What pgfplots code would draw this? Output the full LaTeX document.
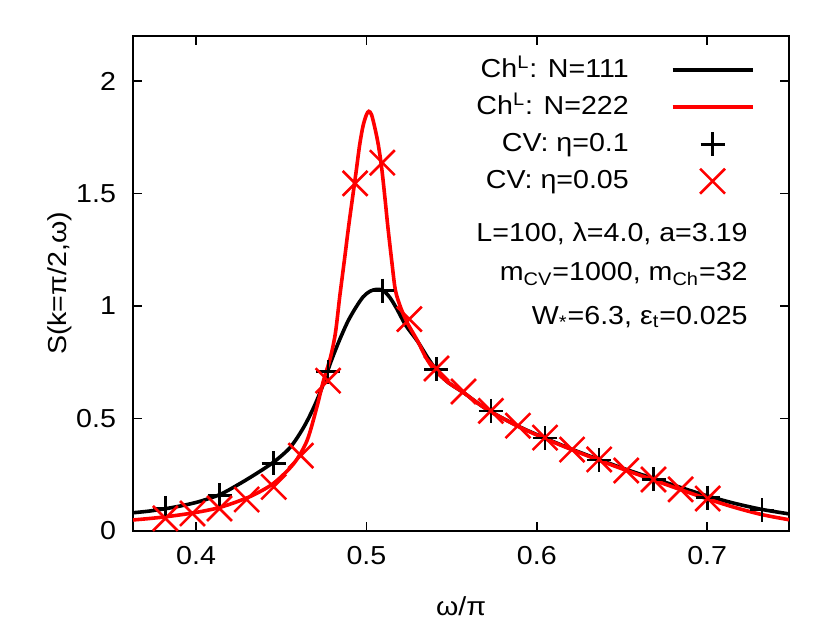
\documentclass[border=0pt]{standalone}
\usepackage{pgfplots}
\pgfplotsset{compat=1.18}
\usepackage{fontspec}
\setmainfont{Liberation Sans}[FakeStretch=1.1]
\pgfplotsset{
  linelegend/.style={legend image code/.code={\draw[##1] (0pt,0pt) -- (40pt,0pt);}},
  marklegend/.style={legend image code/.code={\draw[##1] plot coordinates {(20pt,0pt)};}},
}
\begin{document}
\begin{tikzpicture}
\begin{axis}[
  scale only axis,
  width=328pt, height=247.5pt,
  xmin=0.363, xmax=0.748,
  ymin=0, ymax=2.2,
  xtick={0.4,0.5,0.6,0.7},
  ytick={0,0.5,1,1.5,2},
  minor tick num=0,
  tick align=inside,
  major tick length=4.5pt,
  axis line style={line width=0.9pt},
  every tick/.style={line width=0.9pt, black},
  /pgf/number format/assume math mode=true,
  font=\fontsize{13}{15}\selectfont,
  xlabel={ω/π},
  ylabel={S(k=π/2,ω)},
  x label style={at={(axis description cs:0.5,-0.152)}, anchor=center},
  y label style={at={(axis description cs:-0.111,0.5)}, anchor=center},
  xticklabel style={yshift=-4pt},
  yticklabel style={xshift=-5pt},
  legend style={draw=none, fill=none, at={(axis description cs:0.957,0.966)}, anchor=north east,
    row sep=5.5pt, column sep=21pt, nodes={inner sep=0pt, text height=10pt, text depth=3pt},
    font=\fontsize{13}{15}\selectfont},
  legend plot pos=right,
  legend cell align=right,
]
\addplot[black, line width=1.8pt, smooth, linelegend] coordinates {
(0.363,0.081) (0.372,0.088) (0.382,0.099) (0.392,0.113) (0.402,0.131) (0.414,0.162)
(0.424,0.203) (0.4337,0.247) (0.4455,0.306) (0.4553,0.372) (0.4631,0.460) (0.469,0.548)
(0.4739,0.637) (0.4788,0.745) (0.484,0.845) (0.489,0.930) (0.4935,0.990) (0.498,1.040)
(0.502,1.065) (0.506,1.074) (0.510,1.068)
(0.514,1.035) (0.518,0.985) (0.523,0.915) (0.530,0.843) (0.536,0.770) (0.542,0.705)
(0.548,0.660) (0.557,0.615) (0.565,0.570) (0.573,0.530) (0.589,0.466) (0.605,0.412)
(0.621,0.362) (0.637,0.316) (0.653,0.272) (0.669,0.232) (0.685,0.192) (0.700,0.156)
(0.716,0.123) (0.732,0.096) (0.748,0.076)
};
\addlegendentry{Ch\textsuperscript{L}: N=111}
\addplot[red, line width=1.8pt, smooth, linelegend] coordinates {
(0.363,0.049) (0.372,0.055) (0.381,0.062) (0.390,0.071) (0.398,0.080) (0.406,0.091)
(0.4141,0.105) (0.424,0.130) (0.4337,0.160) (0.4455,0.212) (0.4573,0.299) (0.4651,0.401)
(0.4708,0.548) (0.4747,0.666) (0.4788,0.769) (0.4818,0.880) (0.4843,1.040) (0.487,1.200)
(0.4896,1.357) (0.492,1.490) (0.494,1.600) (0.496,1.715) (0.498,1.800) (0.500,1.850)
(0.5014,1.865) (0.503,1.850) (0.505,1.790) (0.507,1.715) (0.509,1.610) (0.511,1.470)
(0.5125,1.357) (0.515,1.190) (0.517,1.070) (0.520,0.995) (0.524,0.925) (0.530,0.845)
(0.535,0.770) (0.540,0.715) (0.548,0.660) (0.557,0.615) (0.565,0.570) (0.573,0.530)
(0.589,0.465) (0.605,0.410) (0.621,0.360) (0.637,0.313) (0.653,0.268) (0.669,0.225)
(0.685,0.182) (0.700,0.143) (0.716,0.105) (0.732,0.073) (0.748,0.050)
};
\addlegendentry{Ch\textsuperscript{L}: N=222}
\addplot[black, only marks, mark=+, mark size=6pt, line width=1.3pt, marklegend] coordinates {
(0.3820,0.103) (0.4138,0.159) (0.4456,0.301) (0.4775,0.708) (0.5093,1.068) (0.5411,0.718)
(0.5730,0.534) (0.6048,0.413) (0.6366,0.316) (0.6685,0.229) (0.7003,0.148) (0.7321,0.093)
};
\addlegendentry{CV: η=0.1}
\addplot[red, only marks, mark=x, mark size=8.8pt, line width=1.3pt, marklegend] coordinates {
(0.3820,0.056) (0.3979,0.078) (0.4138,0.100) (0.4297,0.140) (0.4456,0.196) (0.4615,0.335)
(0.4775,0.668) (0.4934,1.545) (0.5093,1.637) (0.5252,0.942) (0.5411,0.722) (0.5570,0.620)
(0.5730,0.534) (0.5889,0.468) (0.6048,0.415) (0.6207,0.362) (0.6366,0.318) (0.6525,0.269)
(0.6685,0.229) (0.6844,0.185) (0.7003,0.144)
};
\addlegendentry{CV: η=0.05}
\node[anchor=east, inner sep=0pt] at (axis description cs:0.9375,0.600) {L=100, λ=4.0, a=3.19};
\node[anchor=east, inner sep=0pt] at (axis description cs:0.9375,0.519) {m\textsubscript{CV}=1000, m\textsubscript{Ch}=32};
\node[anchor=east, inner sep=0pt] at (axis description cs:0.9375,0.432) {W\textsubscript{*}=6.3, ε\textsubscript{t}=0.025};
\end{axis}
\pgfresetboundingbox
\path ([xshift=-66.5pt,yshift=-47pt]current axis.south west) rectangle ([xshift=20.5pt,yshift=18pt]current axis.north east);
\end{tikzpicture}
\end{document}
